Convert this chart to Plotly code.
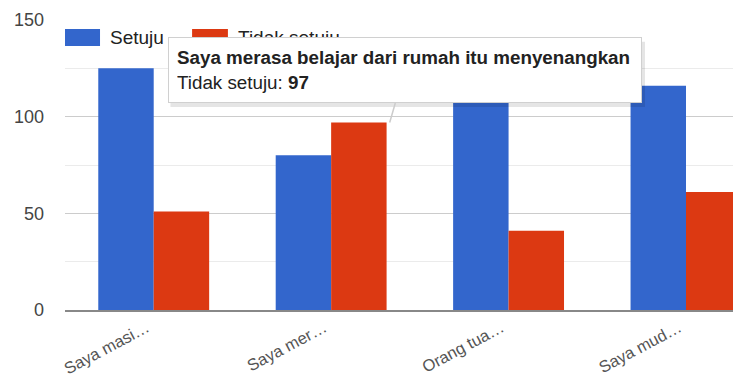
import plotly.graph_objects as go

categories = ["Saya masi…", "Saya mer…", "Orang tua…", "Saya mud…"]
setuju = [125, 80, 135, 116]
tidak_setuju = [51, 97, 41, 61]
series_names = ["Setuju", "Tidak setuju"]
colors = ["#3366cc", "#dc3912"]
tooltip_title = "Saya merasa belajar dari rumah itu menyenangkan"
tooltip_index = 1

xs = list(range(len(categories)))
FONT = "Liberation Sans, Arial, sans-serif"

fig = go.Figure()
fig.add_trace(go.Bar(x=xs, y=setuju, name=series_names[0], marker_color=colors[0],
                     marker_line_width=0))
fig.add_trace(go.Bar(x=xs, y=tidak_setuju, name=series_names[1], marker_color=colors[1],
                     marker_line_width=0))

# custom legend (wide swatches like the original)
legend_items = [(series_names[0], colors[0], 0.0, 0.0518, 0.0636),
                (series_names[1], colors[1], 0.188, 0.241, 0.253)]
for name, col, x0, x1, xt in legend_items:
    fig.add_shape(type="rect", xref="paper", yref="paper", x0=x0, x1=x1,
                  y0=0.910, y1=0.969, fillcolor=col, line_width=0, layer="above")
    fig.add_annotation(xref="paper", yref="paper", x=xt, y=0.94, text=name,
                       showarrow=False, xanchor="left", yanchor="middle",
                       font=dict(family=FONT, size=19, color="#222222"))

# tooltip shadow
fig.add_shape(type="rect", xref="paper", yref="paper", x0=0.156, x1=0.858,
              y0=0.700, y1=0.925, fillcolor="rgba(0,0,0,0.10)", line_width=0,
              layer="above")

tip_text = f"<b>{tooltip_title}</b><br>{series_names[1]}: <b>{tidak_setuju[tooltip_index]}</b>"
fig.add_annotation(x=tooltip_index + 0.33, y=tidak_setuju[tooltip_index], xref="x", yref="y",
                   text=tip_text, align="left", xanchor="center", yanchor="middle",
                   borderpad=8, width=456, height=48,
                   font=dict(family=FONT, size=18.8, color="#222222"),
                   showarrow=True, arrowhead=0, arrowcolor="#cccccc", arrowwidth=1.5,
                   ax=15, ay=-52, bgcolor="#ffffff", bordercolor="#d0d0d0", borderwidth=1)

fig.update_layout(
    width=733, height=377,
    margin=dict(l=57, r=0, t=12, b=75),
    paper_bgcolor="white", plot_bgcolor="white",
    barmode="group", bargap=0.375, bargroupgap=0,
    font=dict(family=FONT, size=15, color="#444444"),
    showlegend=False,
    xaxis=dict(tickmode="array", tickvals=xs, ticktext=categories, tickangle=-28,
               range=[-0.5, 3.31], showgrid=False, showline=True,
               linecolor="#888888", linewidth=2, ticks="",
               tickfont=dict(size=16.5, color="#555555"), ticklabelshift=-7),
    yaxis=dict(range=[0, 150], dtick=50, showgrid=True, gridcolor="#cccccc",
               gridwidth=1, zeroline=False, ticks="",
               tickfont=dict(size=18, color="#444444"), ticklabelstandoff=20,
               minor=dict(dtick=25, showgrid=True, gridcolor="#ebebeb", gridwidth=1)),
)

fig.write_html("out.html")
